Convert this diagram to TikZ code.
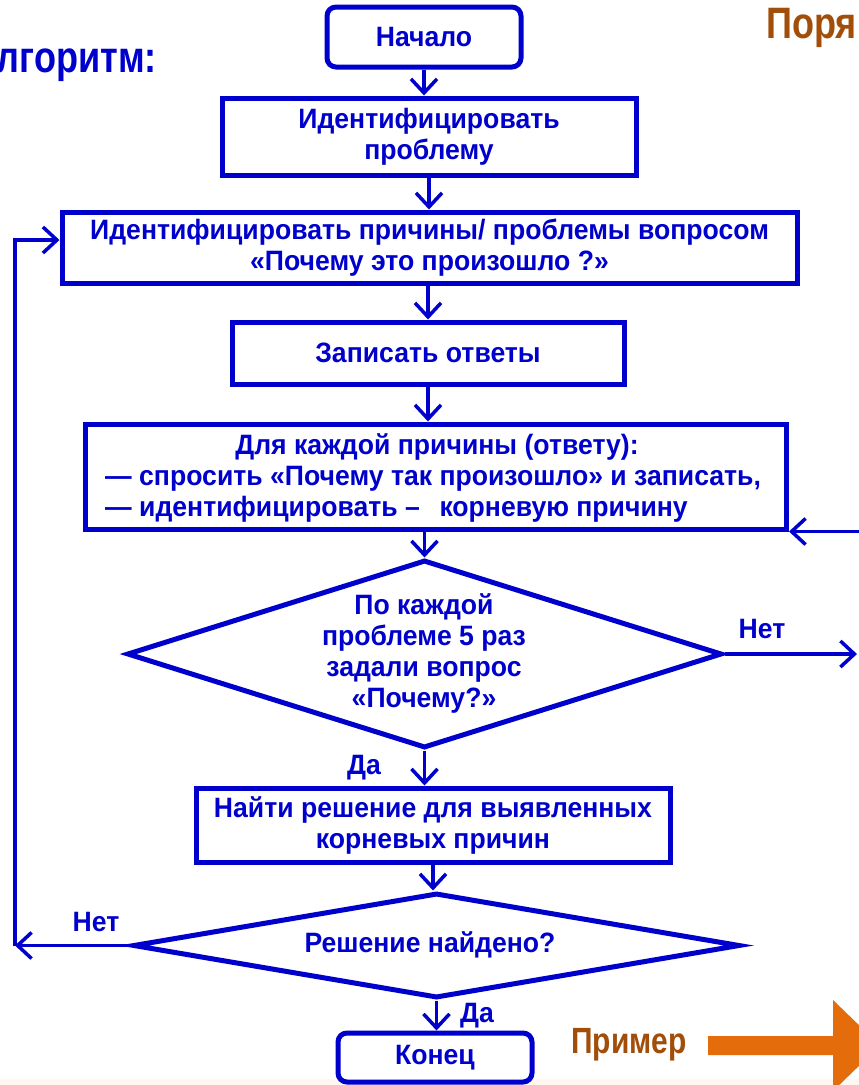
\documentclass[tikz,border=0pt]{standalone}
\usepackage{fontspec}
\setmainfont{Liberation Sans}[FakeStretch=0.95]
\newfontfamily\narrowsans{Liberation Sans}[FakeStretch=0.82]
\usetikzlibrary{arrows.meta,shapes.geometric}
\definecolor{fcblue}{RGB}{0,0,204}
\definecolor{fcbrown}{RGB}{160,78,10}
\definecolor{fcorange}{RGB}{228,108,10}
\newcommand{\fcfont}{\fontsize{28}{31}\selectfont\bfseries}
\newcommand{\headfont}{\narrowsans\fontsize{44}{48}\selectfont\bfseries}
\newcommand{\exfont}{\narrowsans\fontsize{36.5}{40}\selectfont\bfseries}
\begin{document}
\begin{tikzpicture}[x=1pt,y=-1pt,
  fc/.style={draw=fcblue, line width=5pt, inner sep=0pt, text=fcblue, font=\fcfont, align=center},
  rbox/.style={fc, rounded corners=9pt},
  dmd/.style={draw=fcblue, line width=5pt, diamond, inner sep=0pt},
  lbl/.style={text=fcblue, font=\fcfont, inner sep=0pt},
  conn/.style={draw=fcblue, line width=3.5pt, -{Straight Barb[length=14pt,width=26pt]}}]
\useasboundingbox (0,0) rectangle (859,1085);
\clip (0,0) rectangle (859,1085);
\fill[white] (0,0) rectangle (859,1085);
\fill[orange!6] (0,1079) rectangle (859,1085);

% boxes
\node[rbox, minimum width=194, minimum height=60] (start) at (424,37) {Начало};
\node[fc, minimum width=414, minimum height=77] (b2) at (429,136.5) {Идентифицировать\\проблему};
\node[fc, minimum width=735, minimum height=71] (b3) at (429.5,247.5) {Идентифицировать причины/ проблемы вопросом\\«Почему это произошло ?»};
\node[fc, minimum width=392, minimum height=62] (b4) at (428,353) {Записать ответы};
\node[fc, minimum width=701, minimum height=105] (b5) at (436,476.5) {};
\node[lbl, anchor=base] (t5a) at (437,454) {Для каждой причины (ответу):};
\node[lbl, anchor=base west] (t5b) at (105,485) {— спросить «Почему так произошло» и записать,};
\node[lbl, anchor=base west] (t5c) at (105,516) {— идентифицировать –\hspace{0.7em}корневую причину};
\node[dmd, minimum width=595, minimum height=188] (d1) at (424.5,654) {};
\node[lbl, align=center] (t1) at (424,653) {По каждой\\проблеме 5 раз\\задали вопрос\\«Почему?»};
\node[fc, minimum width=474, minimum height=74] (b7) at (433,825) {Найти решение для выявленных\\корневых причин};
\node[dmd, minimum width=607, minimum height=105] (d2) at (436.5,945.5) {};
\node[lbl] (t2) at (430,945) {Решение найдено?};
\node[rbox, minimum width=194, minimum height=49] (end) at (435,1057.5) {Конец};

% connectors
\draw[conn] (start.south) -- (start.south |- b2.north);
\draw[conn] (b2.south) -- (b2.south |- b3.north);
\draw[conn] (b4.north |- b3.south) -- (b4.north);
\draw[conn] (b4.south) -- (b4.south |- b5.north);
\draw[conn] (d1.north |- b5.south) -- (d1.north);
\draw[conn] (d1.south) -- (d1.south |- b7.north);
\draw[conn] (b7.south) -- (b7.south |- d2.north);
\draw[conn] (d2.south) -- (d2.south |- end.north);

\coordinate (lc) at (15,945.5);
\draw[conn] (d2.west) -- (lc);
\draw[conn] (lc) |- ([yshift=7.5pt]b3.west);
\coordinate (rin) at (866,0);
\draw[conn] (b5.south east -| rin) -- (b5.south east);
\coordinate (rout) at (857,654);
\draw[conn] (d1.east) -- (rout);

% labels
\node[lbl] (yes1) at (364,768) {Да};
\node[lbl] (yes2) at (477,1016) {Да};
\node[lbl] (no1) at (762,629) {Нет};
\node[lbl] (no2) at (96,922) {Нет};

% headings
\node[font=\headfont, text=fcblue, anchor=base east, inner sep=0pt] (alg) at (157,72) {Алгоритм:};
\node[font=\headfont, text=fcbrown, anchor=base west, inner sep=0pt] (por) at (766,38) {Поря};
\node[font=\exfont, text=fcbrown, anchor=base west, inner sep=0pt] (ex) at (571,1053) {Пример};
\fill[fcorange] (708,1036) -- (833,1036) -- (833,1000) -- (880,1045.5) -- (833,1091) -- (833,1055) -- (708,1055) -- cycle;
\end{tikzpicture}
\end{document}
